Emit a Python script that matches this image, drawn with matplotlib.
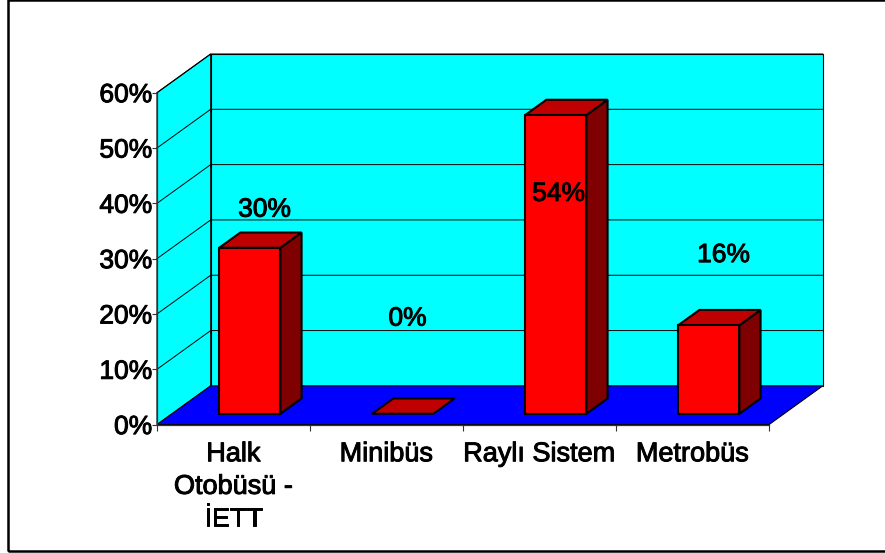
# %% Libs:
import matplotlib
matplotlib.use('Agg')
import matplotlib.pyplot as plt
import matplotlib.patheffects as pe
from matplotlib.patches import Polygon, Rectangle

# %% Data:
categories = ['Halk\nOtobüsü -\nİETT', 'Minibüs', 'Raylı Sistem', 'Metrobüs']
values = [30, 0, 54, 16]
value_labels = ['30%', '0%', '54%', '16%']
y_ticks = [0, 10, 20, 30, 40, 50, 60]

# %% Layout:
W, H = 885, 553
DPI = 100
X0, X1 = 157, 769      # front floor edge [px]
Y0, Y60 = 424.6, 92.7  # front axis, 0% and 60% [px]
DX = 53.7/153          # depth shift in category units
DY = 7.0               # depth shift in percent units
BAR_W = 0.4
BAR_SHIFT = 0.008
D_FRONT, D_BACK = 0.28, 0.675
label_offsets = [(31, 49), (21, 106), (19, -68), (31, 81)]  # [px]
FONT = 'Liberation Sans'
bold = [pe.withStroke(linewidth=0.7, foreground='black')]


def proj(x, y, d):
    # oblique projection, d=0 front of the box, d=1 back wall
    return (x + d*DX, y + d*DY)


def face(ax, pts, color, lw=0.9, z=1):
    ax.add_patch(Polygon(pts, closed=True, facecolor=color, edgecolor='black',
                         linewidth=lw, zorder=z, clip_on=False, joinstyle='miter'))


# %% Figure:
fig = plt.figure(figsize=(W/DPI, H/DPI), dpi=DPI)
fig.add_artist(Rectangle((8/W, 1 - 551/H), 890/W, 551/H, transform=fig.transFigure,
                         facecolor='none', edgecolor='black', linewidth=1.8, clip_on=False))

ax = fig.add_axes([X0/W, 1 - Y0/H, (X1 - X0)/W, (Y0 - Y60)/H])
ax.set_xlim(0, len(categories))
ax.set_ylim(0, y_ticks[-1])
ax.patch.set_visible(False)
for s in ['top', 'right']:
    ax.spines[s].set_visible(False)
for s in ['left', 'bottom']:
    ax.spines[s].set_linewidth(0.9)
    ax.spines[s].set_color('#333333')
    ax.spines[s].set_zorder(6)

nc = len(categories)
top = y_ticks[-1]
# walls and floor
face(ax, [proj(0, 0, 0), proj(0, 0, 1), proj(0, top, 1), proj(0, top, 0)], '#00ffff', lw=0.8)
face(ax, [proj(0, 0, 1), proj(nc, 0, 1), proj(nc, top, 1), proj(0, top, 1)], '#00ffff', lw=0.8)
face(ax, [proj(0, 0, 0), proj(nc, 0, 0), proj(nc, 0, 1), proj(0, 0, 1)], '#0000ff', lw=0.8, z=2)

# gridlines on side and back wall
for t in y_ticks[1:]:
    xs, ys = zip(proj(0, t, 0), proj(0, t, 1), proj(nc, t, 1))
    ax.plot(xs, ys, color='black', lw=0.7, zorder=1.5, clip_on=False)

# bars
for i, v in enumerate(values):
    left = i + 0.5 - BAR_W/2 + BAR_SHIFT
    right = i + 0.5 + BAR_W/2 + BAR_SHIFT
    fx, fy = proj(left, 0, D_FRONT)
    if v > 0:
        ax.bar(fx, v, width=BAR_W, bottom=fy, align='edge', color='#ff0000',
               edgecolor='black', linewidth=1.5, zorder=4, clip_on=False)
        face(ax, [proj(right, 0, D_FRONT), proj(right, 0, D_BACK),
                  proj(right, v, D_BACK), proj(right, v, D_FRONT)], '#7f0000', lw=1.5, z=3)
    face(ax, [proj(left, v, D_FRONT), proj(right, v, D_FRONT),
              proj(right, v, D_BACK), proj(left, v, D_BACK)], '#bf0000', lw=1.5, z=3)

# value labels
for i, (v, txt) in enumerate(zip(values, value_labels)):
    ax.annotate(txt, xy=(i + 0.5, v), xytext=label_offsets[i], textcoords='offset pixels',
                ha='center', va='center', fontsize=19, family=FONT, color='black',
                zorder=7, path_effects=bold, annotation_clip=False)

# ticks
ax.set_yticks(y_ticks)
ax.set_yticklabels([f'{t}%' for t in y_ticks], fontsize=19, family=FONT, path_effects=bold)
ax.set_xticks(range(nc + 1))
ax.set_xticklabels([])
ax.set_xticks([i + 0.5 for i in range(nc)], minor=True)
ax.set_xticklabels(categories, minor=True, fontsize=19.5, family=FONT, path_effects=bold,
                   linespacing=1.33)
ax.tick_params(axis='y', length=3.5, width=0.8, pad=0, color='#333333')
ax.tick_params(axis='x', which='major', length=4, width=0.8, color='#333333')
ax.tick_params(axis='x', which='minor', length=0, pad=12)

plt.savefig('out.png', dpi=DPI)
